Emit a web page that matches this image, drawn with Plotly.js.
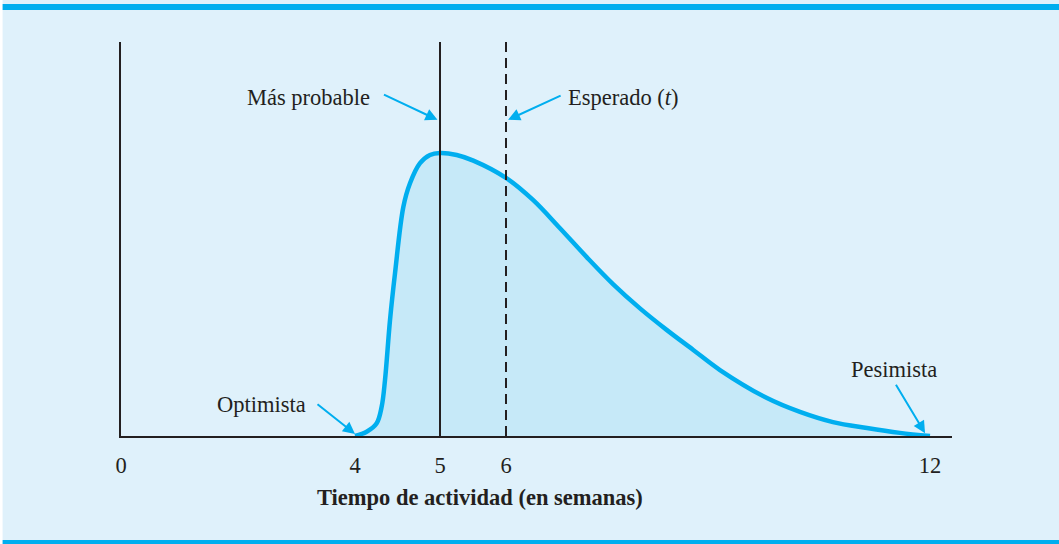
<!DOCTYPE html>
<html>
<head>
<meta charset="utf-8">
<script src="https://cdn.plot.ly/plotly-3.0.1.min.js"></script>
<style>
  body { margin: 0; background: #ffffff; }
  #chart { width: 1059px; height: 544px; }
</style>
</head>
<body>
<div id="chart"></div>
<script>
// activity time in weeks and relative density (peak = 1)
var weeks = [4.0, 4.137, 4.255, 4.314, 4.353, 4.412, 4.471, 4.569, 4.647, 4.765, 4.882, 5.0,
             5.253, 5.505, 6.0, 6.382, 6.764, 7.142, 7.518, 7.896, 8.273, 8.65, 9.028,
             9.693, 10.16, 10.627, 11.108, 11.575, 12.0];
var density = [0, 0.015, 0.045, 0.104, 0.198, 0.41, 0.576, 0.81, 0.893, 0.964, 0.993, 1.0,
               0.993, 0.973, 0.912, 0.834, 0.734, 0.632, 0.536, 0.451, 0.375, 0.304, 0.233,
               0.134, 0.085, 0.049, 0.028, 0.011, 0];

var tickWeeks = [0, 4, 5, 6, 12];
var tickLabels = ['0', '4', '5', '6', '12'];

var optimistic = 4, mostLikely = 5, expected = 6, pessimistic = 12;

// the drawing is schematic: the week axis is not to scale
var warpWeeks = [0, 4, 5, 6, 12];
var warpPos = [0, 234, 319, 385, 809];
function warp(w) {
  for (var i = 1; i < warpWeeks.length; i++) {
    if (w <= warpWeeks[i]) {
      var t = (w - warpWeeks[i - 1]) / (warpWeeks[i] - warpWeeks[i - 1]);
      return warpPos[i - 1] + t * (warpPos[i] - warpPos[i - 1]);
    }
  }
  return warpPos[warpPos.length - 1];
}

var ink = '#231f20';
var cyan = '#00aeef';
var serif = 'Liberation Serif, Times New Roman, serif';
var fs = 22.5;

var curve = {
  x: weeks.map(warp),
  y: density,
  type: 'scatter',
  mode: 'lines',
  line: {color: cyan, width: 4.5, shape: 'spline', smoothing: 1},
  fill: 'tozeroy',
  fillcolor: '#c6e9f8',
  hoverinfo: 'skip'
};

function arrow(xw, yv, ax, ay) {
  return {x: warp(xw), y: yv, xref: 'x', yref: 'y', text: '', showarrow: true,
          ax: ax, ay: ay, arrowhead: 2, arrowsize: 1.2, arrowwidth: 2, arrowcolor: cyan};
}
function label(text, xp, yp, anchor) {
  return {x: xp, y: yp, xref: 'paper', yref: 'paper', text: text, showarrow: false,
          xanchor: anchor, yanchor: 'middle', font: {family: serif, size: fs, color: ink}};
}

var layout = {
  width: 1059, height: 544,
  margin: {l: 121, r: 107, t: 42, b: 108},
  paper_bgcolor: '#dff1fb',
  plot_bgcolor: 'rgba(0,0,0,0)',
  showlegend: false,
  font: {family: serif, size: fs, color: ink},
  xaxis: {
    range: [0, 831], showgrid: false, zeroline: false,
    showline: true, linecolor: ink, linewidth: 2,
    tickvals: tickWeeks.map(warp), ticktext: tickLabels,
    ticks: '', ticklabelstandoff: 8,
    tickfont: {family: serif, size: fs, color: ink},
    fixedrange: true
  },
  yaxis: {
    range: [0, 1.392], showgrid: false, zeroline: false,
    showline: true, linecolor: ink, linewidth: 2,
    showticklabels: false, ticks: '', fixedrange: true
  },
  shapes: [
    {type: 'line', xref: 'x', yref: 'paper', x0: warp(mostLikely), x1: warp(mostLikely), y0: 0, y1: 1,
     line: {color: ink, width: 2}},
    {type: 'line', xref: 'x', yref: 'paper', x0: warp(expected), x1: warp(expected), y0: 0, y1: 1,
     line: {color: ink, width: 2, dash: '10px,6px'}},
    // frame bars
    {type: 'rect', xref: 'paper', yref: 'paper', x0: -0.15, x1: 1.15, y0: 1.0812, y1: 1.0964,
     fillcolor: '#00aeef', line: {width: 0}},
    {type: 'rect', xref: 'paper', yref: 'paper', x0: -0.15, x1: 1.15, y0: -0.276, y1: -0.264,
     fillcolor: '#00aeef', line: {width: 0}},
    {type: 'rect', xref: 'paper', yref: 'paper', x0: -0.15, x1: -0.1425, y0: -0.3, y1: 1.2,
     fillcolor: '#ffffff', line: {width: 0}}
  ],
  annotations: [
    arrow(mostLikely - 0.03, 1.117, -55, -26),
    arrow(expected + 0.03, 1.117, 54, -25),
    arrow(optimistic, 0.007, -39, -31),
    arrow(pessimistic - 0.07, 0.01, -30, -50),
    label('Más probable', 0.302, 0.86, 'right'),
    label('Esperado (<i>t</i>)', 0.5355, 0.86, 'left'),
    label('Optimista', 0.225, 0.0787, 'right'),
    label('Pesimista', 0.93, 0.17, 'center'),
    {x: 0.432, y: -0.157, xref: 'paper', yref: 'paper', showarrow: false,
     text: '<b>Tiempo de actividad (en semanas)</b>', xanchor: 'center', yanchor: 'middle',
     font: {family: serif, size: fs, color: ink}}
  ]
};

Plotly.newPlot('chart', [curve], layout, {displayModeBar: false, staticPlot: true});
</script>
</body>
</html>
